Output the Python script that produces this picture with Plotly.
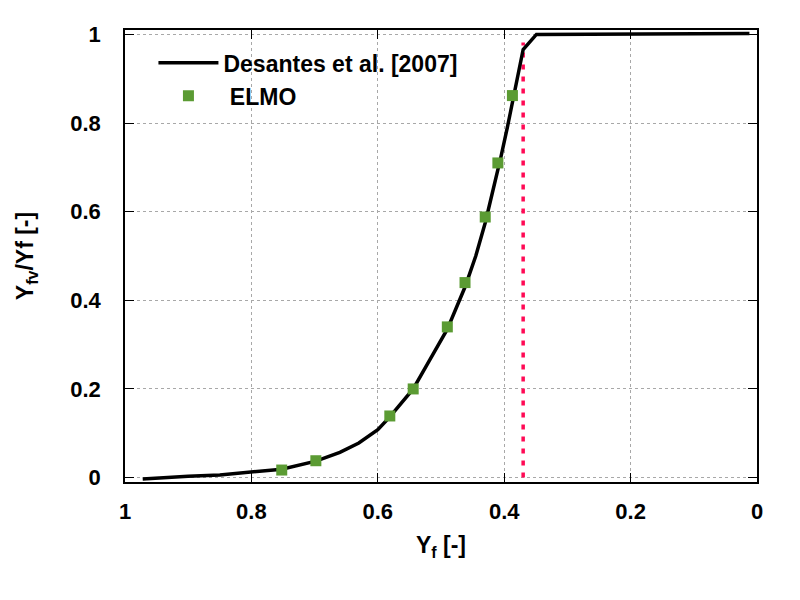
import plotly.graph_objects as go

# Desantes et al. [2007] curve
des_x = [0.972, 0.93, 0.9, 0.85, 0.8, 0.752, 0.698, 0.66, 0.63, 0.6, 0.581, 0.56, 0.544,
         0.52, 0.49, 0.462, 0.445, 0.43, 0.418, 0.405, 0.395, 0.387, 0.378, 0.370, 0.349,
         0.26, 0.012]
des_y = [-0.003, 0.001, 0.003, 0.006, 0.012, 0.019, 0.037, 0.057, 0.078, 0.108, 0.137, 0.172, 0.2,
         0.26, 0.335, 0.43, 0.5, 0.575, 0.645, 0.725, 0.79, 0.845, 0.91, 0.966, 1.0,
         1.001, 1.002]

# ELMO points
elmo_x = [0.752, 0.698, 0.581, 0.544, 0.490, 0.462, 0.430, 0.410, 0.387]
elmo_y = [0.017, 0.038, 0.139, 0.200, 0.340, 0.440, 0.588, 0.710, 0.862]

# vertical marker line
vline_x = [0.370, 0.370]
vline_y = [0.0, 0.982]

FONT = "Liberation Sans"

fig = go.Figure()
fig.add_trace(go.Scatter(x=vline_x, y=vline_y, mode="lines", showlegend=False,
                         line=dict(color="#ff0a55", width=3.5, dash="5px,7px")))
fig.add_trace(go.Scatter(x=des_x, y=des_y, mode="lines", name="<b>Desantes et al. [2007]</b>",
                         line=dict(color="black", width=3.5)))
fig.add_trace(go.Scatter(x=elmo_x, y=elmo_y, mode="markers", name="<b> ELMO</b>",
                         marker=dict(symbol="square", size=11, color="#5b9b33")))

axis_common = dict(showline=True, mirror="allticks", linecolor="black", linewidth=1.5,
                   ticks="inside", ticklen=9, tickcolor="black",
                   showgrid=True, gridcolor="#a8a8a8", griddash="dot", gridwidth=1,
                   zeroline=False,
                   tickfont=dict(family=FONT, size=22, color="black", weight="bold"))

fig.update_xaxes(range=[1, 0], dtick=0.2, ticklabelstandoff=9,
                 title=dict(text="<b>Y<sub>f</sub> [-]</b>", font=dict(family=FONT, size=23, color="black"),
                            standoff=14),
                 **axis_common)
fig.update_yaxes(range=[-0.01, 1.01], tickvals=[0, 0.2, 0.4, 0.6, 0.8, 1.0],
                 ticktext=["0", "0.2", "0.4", "0.6", "0.8", "1"], ticklabelstandoff=18,
                 title=dict(text="<b>Y<sub>fv</sub>/Yf [-]</b>", font=dict(family=FONT, size=23, color="black"),
                            standoff=30),
                 **axis_common)

fig.update_layout(width=800, height=600, paper_bgcolor="white", plot_bgcolor="white",
                  margin=dict(l=117, r=51, t=22, b=126),
                  legend=dict(x=0.045, y=0.975, xanchor="left", yanchor="top", bgcolor="rgba(0,0,0,0)",
                              font=dict(family=FONT, size=23, color="black"),
                              tracegroupgap=0, itemwidth=60),
                  font=dict(family=FONT))

fig.write_html("out.html")
